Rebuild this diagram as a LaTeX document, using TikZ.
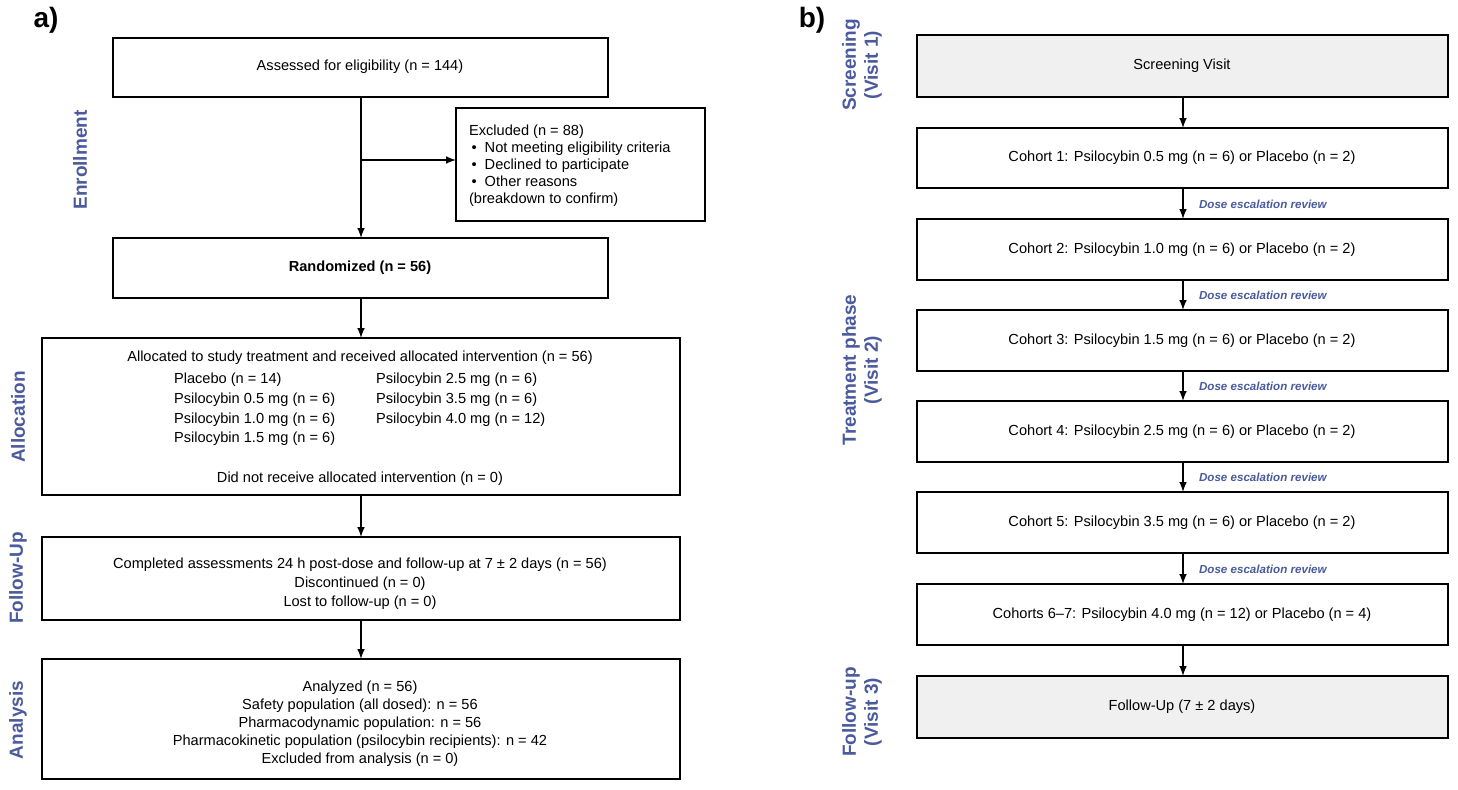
\documentclass[tikz,border=0pt]{standalone}
\usepackage{fontspec}
\setmainfont{Liberation Sans}
\definecolor{lab}{HTML}{4A5A9C}
\begin{document}
\begin{tikzpicture}[x=0.5pt,y=-0.5pt,
  box/.style={draw,line width=0.7pt,inner sep=0pt},
  gbox/.style={box,fill=black!6},
  arr/.style={-latex,line width=0.7pt},
  side/.style={text=lab,font=\fontsize{9.5}{11}\selectfont\bfseries,rotate=90,align=center},
  txt/.style={font=\fontsize{7.3}{9}\selectfont},
  dose/.style={text=lab,font=\fontsize{5.8}{7}\selectfont\bfseries\itshape,anchor=west}]
\useasboundingbox (0,0) rectangle (1458,790);
\node[font=\fontsize{14}{16}\selectfont\bfseries] (la) at (46,20) {a)};
\node[font=\fontsize{14}{16}\selectfont\bfseries] (lb) at (812,20) {b)};
% left
\draw[box] (113,38) rectangle (608,97);
\node[txt] (ass) at (360,67) {Assessed for eligibility (n = 144)};
\coordinate (a1) at (361,97);
\draw[box] (456,108) rectangle (705,221);
\coordinate (exl) at (456,160);
\node[txt,anchor=north west,align=left] (exc) at (462,118) {Excluded (n = 88)\\[-0.5pt]
\,\textbullet\ \ Not meeting eligibility criteria\\[-0.5pt]
\,\textbullet\ \ Declined to participate\\[-0.5pt]
\,\textbullet\ \ Other reasons\\[-0.5pt]
(breakdown to confirm)};
\draw[box] (113,238) rectangle (608,298);
\node[txt,font=\fontsize{7.3}{9}\selectfont\bfseries] (ran) at (360,268) {Randomized (n = 56)};
\coordinate (r1) at (361,238);
\coordinate (j) at (361,160);
\draw[line width=0.7pt] (a1) -- (j);
\draw[arr] (j) -- (r1);
\draw[arr] (j) -- (exl);
\draw[box] (42,338) rectangle (680,495);
\draw[arr] (361,298) -- (361,338);
\node[txt] (al0) at (360,358) {Allocated to study treatment and received allocated intervention (n = 56)};
\node[txt,anchor=west] (al1) at (167,380) {Placebo (n = 14)};
\node[txt,anchor=west] (al2) at (167,400) {Psilocybin 0.5 mg (n = 6)};
\node[txt,anchor=west] (al3) at (167,420) {Psilocybin 1.0 mg (n = 6)};
\node[txt,anchor=west] (al4) at (167,439) {Psilocybin 1.5 mg (n = 6)};
\node[txt,anchor=west] (al5) at (369,380) {Psilocybin 2.5 mg (n = 6)};
\node[txt,anchor=west] (al6) at (369,400) {Psilocybin 3.5 mg (n = 6)};
\node[txt,anchor=west] (al7) at (369,420) {Psilocybin 4.0 mg (n = 12)};
\node[txt] (al8) at (360,479) {Did not receive allocated intervention (n = 0)};
\draw[arr] (361,495) -- (361,537);
\draw[box] (42,537) rectangle (680,620);
\node[txt,align=center] (fu) at (360,584) {Completed assessments 24 h post-dose and follow-up at 7 ± 2 days (n = 56)\\[0.5pt]Discontinued (n = 0)\\[0.5pt]Lost to follow-up (n = 0)};
\draw[arr] (361,620) -- (361,659);
\draw[box] (42,659) rectangle (680,779);
\node[txt,align=center] (an) at (360,724) {Analyzed (n = 56)\\[0pt]Safety population (all dosed): n = 56\\[0pt]Pharmacodynamic population: n = 56\\[0pt]Pharmacokinetic population (psilocybin recipients): n = 42\\[0pt]Excluded from analysis (n = 0)};
\node[side] (s1) at (80,160) {Enrollment};
\node[side] (s2) at (18,417) {Allocation};
\node[side] (s3) at (18,578) {Follow-Up};
\node[side] (s4) at (18,720) {Analysis};
% right
\node[side] (t1) at (862,65) {Screening\\(Visit 1)};
\node[side] (t2) at (862,370) {Treatment phase\\(Visit 2)};
\node[side] (t3) at (862,712) {Follow-up\\(Visit 3)};
\foreach \n/\a/\b/\t/\g in {
 b0/35/97/{Screening Visit}/gbox,
 b1/128/188/{Cohort 1: Psilocybin 0.5 mg (n = 6) or Placebo (n = 2)}/box,
 b2/219/280/{Cohort 2: Psilocybin 1.0 mg (n = 6) or Placebo (n = 2)}/box,
 b3/310/371/{Cohort 3: Psilocybin 1.5 mg (n = 6) or Placebo (n = 2)}/box,
 b4/401/462/{Cohort 4: Psilocybin 2.5 mg (n = 6) or Placebo (n = 2)}/box,
 b5/492/553/{Cohort 5: Psilocybin 3.5 mg (n = 6) or Placebo (n = 2)}/box,
 b6/584/645/{Cohorts 6–7: Psilocybin 4.0 mg (n = 12) or Placebo (n = 4)}/box,
 b7/676/738/{Follow-Up (7 ± 2 days)}/gbox}{
 \draw[\g] (917,\a) rectangle (1448,\b);
 \coordinate (\n t) at (1183,\a);
 \coordinate (\n b) at (1183,\b);
 \node[txt] (\n) at (1182,{(\a+\b)/2}) {\t};
}
\draw[arr] (b0b) -- (b1t);
\draw[arr] (b1b) -- (b2t);
\draw[arr] (b2b) -- (b3t);
\draw[arr] (b3b) -- (b4t);
\draw[arr] (b4b) -- (b5t);
\draw[arr] (b5b) -- (b6t);
\draw[arr] (b6b) -- (b7t);
\foreach \y/\n in {204/d1,295/d2,386/d3,477/d4,569/d5}
  \node[dose] (\n) at (1192,\y) {Dose escalation review};
\end{tikzpicture}
\end{document}
